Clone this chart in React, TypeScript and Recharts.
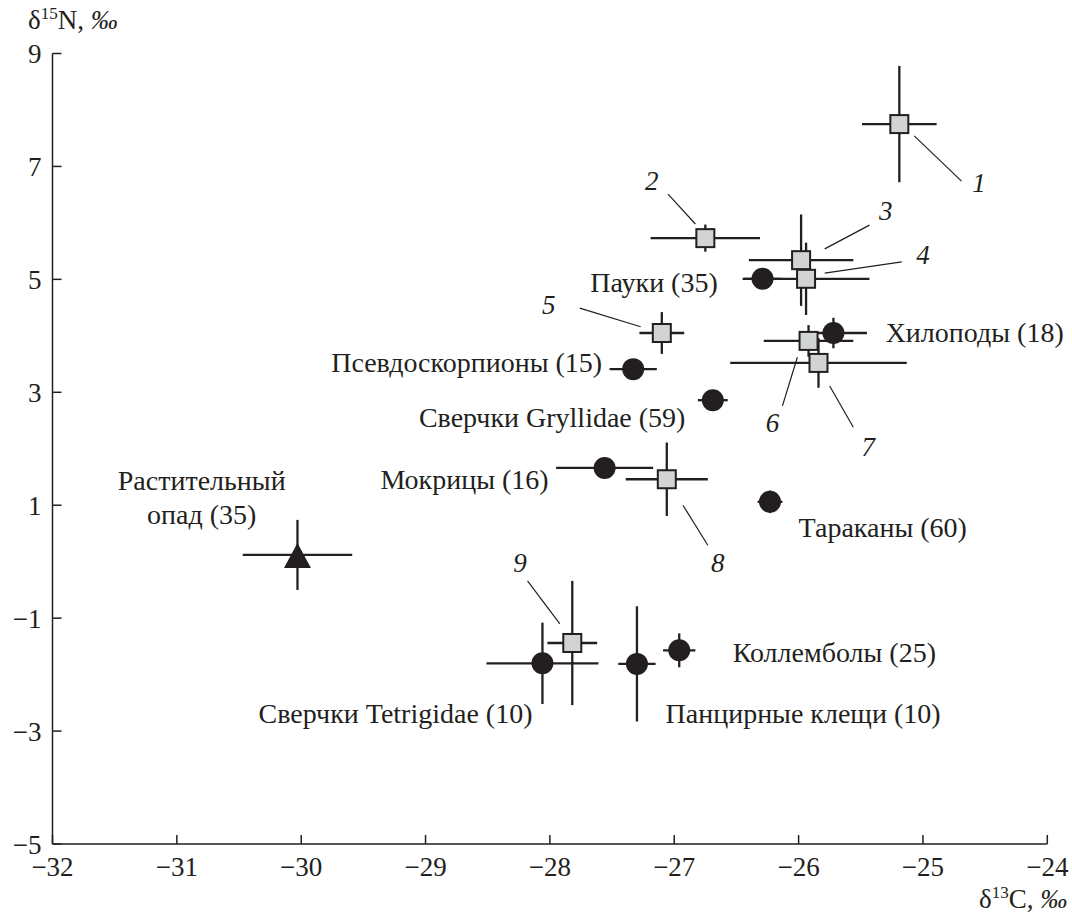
import { ScatterChart, Scatter, XAxis, YAxis, ErrorBar, ReferenceDot, ReferenceLine } from 'recharts'

// δ13C / δ15N, ‰ — mean ± SD

// numbered taxa (grey squares)
const squareIds = ['1', '2', '3', '4', '5', '6', '7', '8', '9']
const squareC = [-25.19, -26.75, -25.98, -25.94, -27.1, -25.92, -25.84, -27.06, -27.82]
const squareN = [7.75, 5.73, 5.34, 5.01, 4.05, 3.91, 3.52, 1.46, -1.44]
const squareCErr = [0.3, 0.44, 0.42, 0.51, 0.18, 0.36, 0.71, 0.33, 0.2]
const squareNErr = [1.03, 0.24, 0.81, 0.64, 0.37, 0.28, 0.44, 0.65, 1.1]

// named groups (black circles)
const groupNames = [
  'Пауки (35)',
  'Псевдоскорпионы (15)',
  'Сверчки Gryllidae (59)',
  'Хилоподы (18)',
  'Мокрицы (16)',
  'Тараканы (60)',
  'Сверчки Tetrigidae (10)',
  'Панцирные клещи (10)',
  'Коллемболы (25)',
]
const groupC = [-26.29, -27.33, -26.69, -25.72, -27.56, -26.23, -28.06, -27.3, -26.96]
const groupN = [5.01, 3.41, 2.86, 4.05, 1.66, 1.06, -1.8, -1.81, -1.57]
const groupCErr = [0.15, 0.19, 0.12, 0.27, 0.39, 0.1, 0.45, 0.15, 0.13]
const groupNErr = [0.05, 0.1, 0.15, 0.27, 0.1, 0.2, 0.72, 1.02, 0.3]

// plant litter (black triangle)
const litterName = ['Растительный', 'опад (35)']
const litterC = [-30.03]
const litterN = [0.12]
const litterCErr = [0.44]
const litterNErr = [0.62]

const xTicks = [-32, -31, -30, -29, -28, -27, -26, -25, -24]
const yTicks = [-5, -3, -1, 1, 3, 5, 7, 9]

// label anchors (data units)
const groupLabelPos = [
  { x: -26.65, y: 4.95, anchor: 'end' },
  { x: -27.58, y: 3.52, anchor: 'end' },
  { x: -26.91, y: 2.56, anchor: 'end' },
  { x: -25.3, y: 4.05, anchor: 'start' },
  { x: -28.01, y: 1.45, anchor: 'end' },
  { x: -26.0, y: 0.61, anchor: 'start' },
  { x: -28.14, y: -2.68, anchor: 'end' },
  { x: -27.07, y: -2.68, anchor: 'start' },
  { x: -26.53, y: -1.6, anchor: 'start' },
]
const litterLabelPos = [
  { x: -30.8, y: 1.43 },
  { x: -30.8, y: 0.83 },
]
const idLabelPos = [
  { x: -24.55, y: 6.71 },
  { x: -27.18, y: 6.74 },
  { x: -25.3, y: 6.21 },
  { x: -25.0, y: 5.43 },
  { x: -28.01, y: 4.55 },
  { x: -26.21, y: 2.46 },
  { x: -25.44, y: 2.03 },
  { x: -26.65, y: -0.02 },
  { x: -28.24, y: -0.02 },
]
const leaders = [
  [-25.07, 7.54, -24.69, 6.74],
  [-27.05, 6.51, -26.83, 5.98],
  [-25.79, 5.54, -25.43, 5.96],
  [-25.79, 5.11, -25.17, 5.31],
  [-27.76, 4.49, -27.27, 4.16],
  [-26.01, 3.62, -26.13, 2.76],
  [-25.75, 3.11, -25.56, 2.38],
  [-26.93, 1.0, -26.73, 0.29],
  [-28.18, -0.34, -27.92, -1.1],
]

const INK = '#231f20'
const FONT = "'Liberation Serif', 'Times New Roman', serif"

const squares = squareIds.map((id, i) => ({ id, x: squareC[i], y: squareN[i], ex: squareCErr[i], ey: squareNErr[i] }))
const groups = groupNames.map((name, i) => ({ name, x: groupC[i], y: groupN[i], ex: groupCErr[i], ey: groupNErr[i] }))
const litter = litterC.map((c, i) => ({ x: c, y: litterN[i], ex: litterCErr[i], ey: litterNErr[i] }))

const minus = (v: number) => String(v).replace('-', '\u2212')

const SquareShape = (props: any) => (
  <rect x={props.cx - 9} y={props.cy - 9} width={18} height={18} fill="#d1d3d4" stroke={INK} strokeWidth={2} />
)
const CircleShape = (props: any) => <circle cx={props.cx} cy={props.cy} r={11} fill={INK} />
const TriangleShape = (props: any) => (
  <polygon
    points={`${props.cx},${props.cy - 12} ${props.cx - 13.5},${props.cy + 13} ${props.cx + 13.5},${props.cy + 13}`}
    fill={INK}
  />
)

const textShape = (value: string, anchor: string, italic = false) => (props: any) => (
  <text
    x={props.cx}
    y={props.cy}
    textAnchor={anchor}
    dominantBaseline="central"
    fontFamily={FONT}
    fontSize={italic ? 27 : 28}
    fontStyle={italic ? 'italic' : 'normal'}
    fill={INK}
  >
    {value}
  </text>
)

const YLabel = ({ viewBox }: any) => (
  <text x={28} y={viewBox.y - 25} fontFamily={FONT} fontSize={27} fill={INK}>
    δ<tspan fontSize={17} dy={-10}>15</tspan>
    <tspan dy={10}>N, </tspan>
    <tspan fontStyle="italic">‰</tspan>
  </text>
)

const XLabel = ({ viewBox }: any) => (
  <text x={viewBox.x + viewBox.width + 20} y={viewBox.y + 64} textAnchor="end" fontFamily={FONT} fontSize={27} fill={INK}>
    δ<tspan fontSize={17} dy={-10}>13</tspan>
    <tspan dy={10}>C, </tspan>
    <tspan fontStyle="italic">‰</tspan>
  </text>
)

export default function App() {
  return (
    <div>
      <style>{'body{margin:0}'}</style>
      <ScatterChart width={1072} height={916} margin={{ top: 53.5, right: 24.7, bottom: 22, left: 2.5 }}>
        <XAxis
          type="number"
          dataKey="x"
          domain={[-32, -24]}
          ticks={xTicks}
          tickFormatter={minus}
          tickSize={-9}
          tickMargin={22}
          height={50}
          axisLine={{ stroke: INK, strokeWidth: 1.5 }}
          tickLine={{ stroke: INK, strokeWidth: 1.5 }}
          tick={{ fill: INK, fontFamily: FONT, fontSize: 27 }}
          label={<XLabel />}
        />
        <YAxis
          type="number"
          dataKey="y"
          domain={[-5, 9]}
          ticks={yTicks}
          tickFormatter={minus}
          tickSize={-9}
          tickMargin={20}
          width={50}
          axisLine={{ stroke: INK, strokeWidth: 1.5 }}
          tickLine={{ stroke: INK, strokeWidth: 1.5 }}
          tick={{ fill: INK, fontFamily: FONT, fontSize: 27 }}
          label={<YLabel />}
        />

        {leaders.map((l, i) => (
          <ReferenceLine
            key={`lead-${i}`}
            segment={[{ x: l[0], y: l[1] }, { x: l[2], y: l[3] }]}
            stroke={INK}
            strokeWidth={1.2}
          />
        ))}

        <Scatter data={litter} shape={TriangleShape} isAnimationActive={false}>
          <ErrorBar dataKey="ex" direction="x" width={0} stroke={INK} strokeWidth={2.3} />
          <ErrorBar dataKey="ey" direction="y" width={0} stroke={INK} strokeWidth={2.3} />
        </Scatter>
        <Scatter data={groups} shape={CircleShape} isAnimationActive={false}>
          <ErrorBar dataKey="ex" direction="x" width={0} stroke={INK} strokeWidth={2.3} />
          <ErrorBar dataKey="ey" direction="y" width={0} stroke={INK} strokeWidth={2.3} />
        </Scatter>
        <Scatter data={squares} shape={SquareShape} isAnimationActive={false}>
          <ErrorBar dataKey="ex" direction="x" width={0} stroke={INK} strokeWidth={2.3} />
          <ErrorBar dataKey="ey" direction="y" width={0} stroke={INK} strokeWidth={2.3} />
        </Scatter>

        {groupNames.map((name, i) => (
          <ReferenceDot
            key={`g-${i}`}
            x={groupLabelPos[i].x}
            y={groupLabelPos[i].y}
            r={0}
            shape={textShape(name, groupLabelPos[i].anchor)}
          />
        ))}
        {litterName.map((name, i) => (
          <ReferenceDot
            key={`l-${i}`}
            x={litterLabelPos[i].x}
            y={litterLabelPos[i].y}
            r={0}
            shape={textShape(name, 'middle')}
          />
        ))}
        {squareIds.map((id, i) => (
          <ReferenceDot
            key={`n-${i}`}
            x={idLabelPos[i].x}
            y={idLabelPos[i].y}
            r={0}
            shape={textShape(id, 'middle', true)}
          />
        ))}
      </ScatterChart>
    </div>
  )
}
